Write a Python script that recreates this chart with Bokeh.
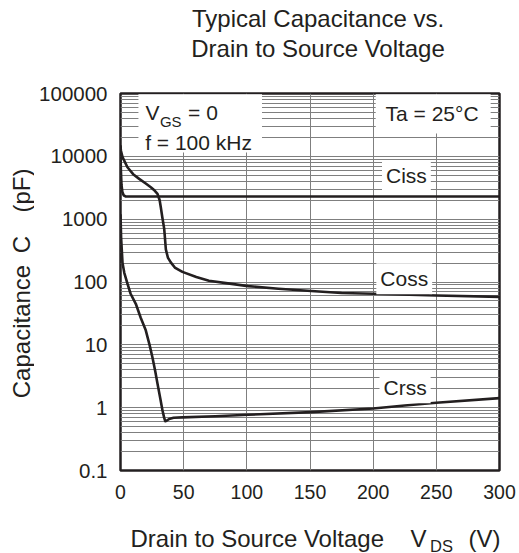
import math
from bokeh.plotting import figure
from bokeh.layouts import column, row
from bokeh.models import FixedTicker, CustomJSTickFormatter, Label, BoxAnnotation, Range1d
from bokeh.embed import file_html
from bokeh.resources import INLINE

# ---- data ----
vds_ciss = [0, 0.3, 0.8, 1.5, 2.5, 4, 50, 100, 150, 200, 250, 300]
ciss = [12000, 6000, 3500, 2700, 2400, 2300, 2300, 2300, 2300, 2300, 2300, 2300]

vds_coss = [0, 0.3, 1.6, 5.5, 10, 14.8, 20, 24, 27, 29.3, 31, 31.9, 33, 34.6, 35.9,
            37.5, 39.8, 43, 49, 60, 70, 85, 101, 125, 151, 175, 200, 250, 300]
coss = [15000, 12400, 9700, 6700, 5200, 4380, 3700, 3220, 2850, 2530, 2000, 1550, 1100, 700, 330,
        245, 205, 170, 145, 120, 105, 95, 86, 78, 72, 67, 65, 61, 58]

vds_crss = [0, 0.5, 1.6, 3, 5.5, 8, 12.1, 16, 20, 23, 25.3, 27.5, 29.3, 31.5, 33.2, 34.5,
            35.4, 36.5, 38.5, 42, 49, 75, 101, 151, 200, 225, 250, 300]
crss = [1200, 500, 200, 140, 94, 65, 45, 27, 17, 10, 6.3, 3.8, 2.4, 1.4, 0.91, 0.7,
        0.61, 0.62, 0.66, 0.69, 0.70, 0.73, 0.77, 0.85, 0.97, 1.08, 1.2, 1.42]

x_ticks = [0, 50, 100, 150, 200, 250, 300]
y_ticks = [0.1, 1, 10, 100, 1000, 10000, 100000]
y_tick_labels = ["0.1", "1", "10", "100", "1000", "10000", "100000"]
y_minor = [m * 10.0 ** e for e in range(-1, 5) for m in range(2, 10)]

FONT = "Liberation Sans"
INK = "#231f20"
GRID = "#7f7f7f"
BIG = "24px"


def text_fig(w, h):
    f = figure(width=w, height=h, toolbar_location=None, output_backend="svg",
               min_border=0, x_axis_location=None, y_axis_location=None,
               x_range=Range1d(0, 1), y_range=Range1d(0, 1))
    f.outline_line_color = None
    f.grid.visible = False
    return f


def lab(fig, x, y, text, size="21px", units="data", **kw):
    l = Label(x=x, y=y, text=text, text_font=FONT, text_font_size=size, text_color=INK,
              text_baseline="middle", x_units=units, y_units=units, **kw)
    fig.add_layout(l)
    return l


# ---- main plot ----
p = figure(width=485, height=440, x_range=(0, 300), y_range=(0.1, 100000),
           y_axis_type="log", output_backend="svg", toolbar_location=None,
           min_border_left=86, min_border_right=20, min_border_top=23,
           min_border_bottom=40)
p.title.visible = False

p.xaxis.ticker = FixedTicker(ticks=x_ticks)
p.xgrid.ticker = FixedTicker(ticks=x_ticks)
p.yaxis.ticker = FixedTicker(ticks=y_ticks)
p.ygrid.ticker = FixedTicker(ticks=y_ticks, minor_ticks=y_minor)
for g in (p.xgrid, p.ygrid):
    g.grid_line_color = GRID
    g.grid_line_width = 1
    g.grid_line_alpha = 1
p.ygrid.minor_grid_line_color = GRID
p.ygrid.minor_grid_line_width = 1

p.yaxis.formatter = CustomJSTickFormatter(args=dict(yt=y_ticks, yl=y_tick_labels), code="""
const i = yt.findIndex(t => Math.abs(Math.log10(t) - Math.log10(tick)) < 1e-6);
return i >= 0 ? yl[i] : '';
""")

for ax in (p.xaxis, p.yaxis):
    ax.axis_line_color = None
    ax.major_tick_line_color = None
    ax.minor_tick_line_color = None
    ax.major_label_text_font = FONT
    ax.major_label_text_color = INK
p.xaxis.major_label_text_font_size = "19.5px"
p.yaxis.major_label_text_font_size = "20.5px"
p.xaxis.major_label_standoff = 8
p.yaxis.major_label_standoff = 7

p.outline_line_color = INK
p.outline_line_width = 2.5
p.outline_line_alpha = 1

# white boxes behind the condition texts
p.add_layout(BoxAnnotation(left=14.2, right=112, bottom=11500, top=97000,
                           fill_color="white", fill_alpha=1, line_color=None, level="underlay"))
p.add_layout(BoxAnnotation(left=202, right=293, bottom=23000, top=97000,
                           fill_color="white", fill_alpha=1, line_color=None, level="underlay"))

for xs, ys in ((vds_ciss, ciss), (vds_coss, coss), (vds_crss, crss)):
    p.line(xs, ys, line_color=INK, line_width=2.6, line_join="round")

lab(p, 19.8, 50000, "V")
lab(p, 31.2, 36000, "GS", size="15px")
lab(p, 53.5, 50000, "= 0")
lab(p, 19.5, 16600, "f = 100 kHz")
lab(p, 209.8, 48000, "Ta = 25°C")
for t, xv, yv in (("Ciss", 207, 4950), ("Coss", 202.5, 113), ("Crss", 205, 2.08)):
    lab(p, xv, yv, t, background_fill_color="white", background_fill_alpha=1, padding=4)

# ---- title (top strip) ----
t_fig = text_fig(519, 70)
lab(t_fig, 317.5, 51.7, "Typical Capacitance vs.", size=BIG, units="screen", text_align="center")
lab(t_fig, 317.5, 22.5, "Drain to Source Voltage", size=BIG, units="screen", text_align="center")

# ---- y label (left strip) ----
y_fig = text_fig(34, 440)
for t, yc in (("Capacitance", 139), ("C", 226), ("(pF)", 280)):
    lab(y_fig, 21, yc, t, size=BIG, units="screen", text_align="center", angle=math.pi / 2)

# ---- x label (bottom strip) ----
x_fig = text_fig(519, 43)
lab(x_fig, 130, 15.5, "Drain to Source Voltage", size=BIG, units="screen")
lab(x_fig, 410, 15.5, "V", size=BIG, units="screen")
lab(x_fig, 429.5, 8, "DS", size="16.5px", units="screen")
lab(x_fig, 468, 15.5, "(V)", size=BIG, units="screen")

layout = column(t_fig, row(y_fig, p), x_fig)
open("out.html", "w").write(file_html(layout, INLINE))
